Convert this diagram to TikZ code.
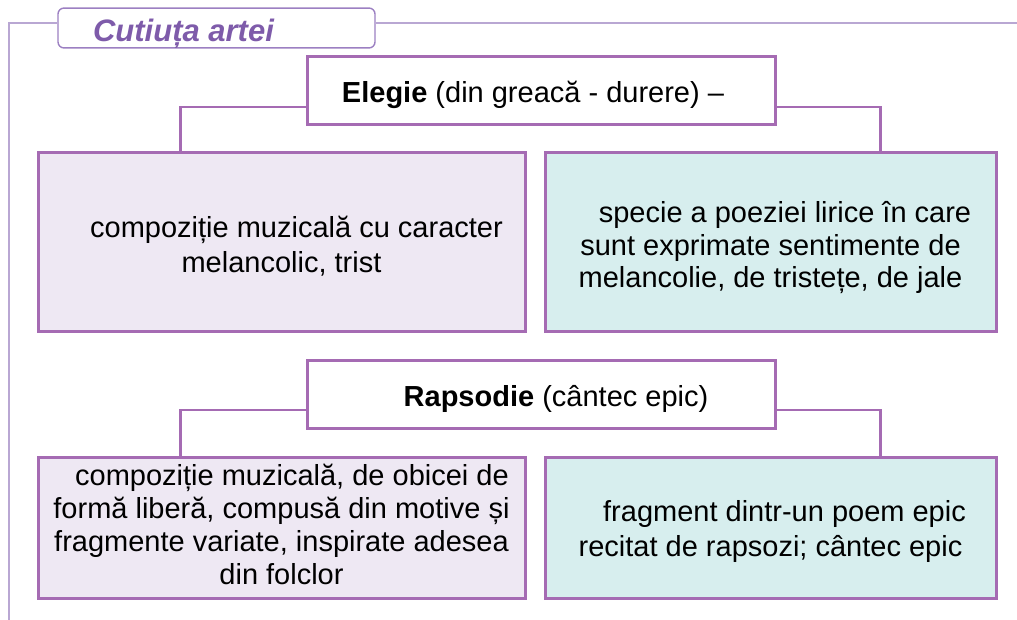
\documentclass[tikz,border=0pt]{standalone}
\usepackage{fontspec}
\setmainfont{Liberation Sans}
\definecolor{bord}{HTML}{A56BB3}
\definecolor{lav}{HTML}{EEE8F3}
\definecolor{teal}{HTML}{D7EEEE}
\definecolor{framec}{HTML}{B9A7D3}
\definecolor{titlec}{HTML}{7E5BAA}
\definecolor{titleb}{HTML}{9C80C2}
\newcommand\sinkby[1]{\rule{0pt}{#1pt}}
\newcommand\riseby[1]{\rule[-#1pt]{0pt}{0pt}}
\tikzset{
  box/.style={draw=bord, line width=3pt, inner sep=0pt, minimum width=#1, align=center, font=\fontsize{29}{34.5}\selectfont},
  lbox/.style={box=487pt, fill=lav},
  tbox/.style={box=451pt, fill=teal},
  head/.style={box=468pt, fill=white, minimum height=68pt},
  conn/.style={draw=bord, line width=2.7pt},
  framel/.style={draw=framec, line width=2.4pt},
  titlebox/.style={draw=titleb, line width=1.4pt, rounded corners=6pt, fill=white, minimum width=317pt, minimum height=36pt, inner sep=0pt, font=\fontsize{31}{36}\selectfont\bfseries\itshape, text=titlec}
}
\begin{document}
\begin{tikzpicture}[x=1pt,y=-1pt]
\useasboundingbox (0,0) rectangle (1017,620);
% frame
\coordinate (fbl) at (9,620);
\coordinate (fr) at (1017,23);
\node[titlebox] (t) at (216.5,28) {\sinkby{33}Cutiuța artei\hspace*{66pt}};
\draw[framel] (fbl) |- ([yshift=5pt]t.west);
\draw[framel] ([yshift=5pt]t.east) -- (fr);
% Elegie
\node[head] (el) at (541,91) {\sinkby{29}\textbf{Elegie} (din greacă - durere) –\hspace*{16pt}};
\node[lbox, minimum height=178pt, font=\fontsize{29}{35}\selectfont] (e1) at (281.5,242) {\sinkby{30.5}\hspace*{30pt}compoziție muzicală cu caracter\\melancolic, trist};
\node[tbox, minimum height=178pt, font=\fontsize{29}{32.5}\selectfont] (e2) at (770.5,242) {\sinkby{32.5}\hspace*{29pt}specie a poeziei lirice în care\\sunt exprimate sentimente de\\melancolie, de tristețe, de jale};
\draw[conn] ([yshift=-16pt]el.west) -| ([xshift=144pt]e1.north west);
\draw[conn] ([yshift=-16pt]el.east) -| ([xshift=337pt]e2.north west);
% Rapsodie
\node[head] (ra) at (541,394.5) {\sinkby{31}\hspace*{30pt}\textbf{Rapsodie} (cântec epic)};
\node[lbox, minimum height=141pt, font=\fontsize{29}{33}\selectfont] (r1) at (281.5,527.5) {\hspace*{21pt}compoziție muzicală, de obicei de\\formă liberă, compusă din motive și\\fragmente variate, inspirate adesea\\din folclor\riseby{7}};
\node[tbox, minimum height=141pt, font=\fontsize{29}{35}\selectfont] (r2) at (770.5,527.5) {\sinkby{28.5}\hspace*{28pt}fragment dintr-un poem epic\\recitat de rapsozi; cântec epic};
\draw[conn] ([yshift=-15.5pt]ra.west) -| ([xshift=144pt]r1.north west);
\draw[conn] ([yshift=-15.5pt]ra.east) -| ([xshift=337pt]r2.north west);
\end{tikzpicture}
\end{document}
